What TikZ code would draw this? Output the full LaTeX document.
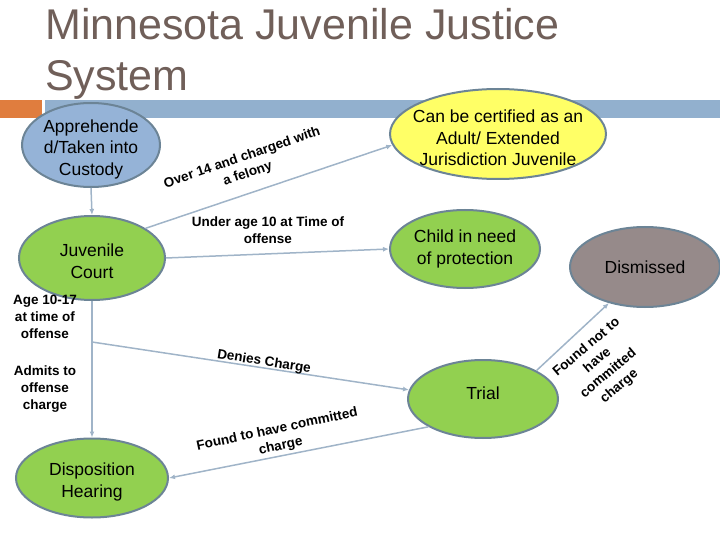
\documentclass[tikz,border=0pt]{standalone}
\usepackage{fontspec}
\setmainfont{Liberation Sans}
\usepackage{xcolor}
\usetikzlibrary{arrows.meta,positioning,shapes.geometric}

\definecolor{titlegray}{RGB}{112,95,89}
\definecolor{barblue}{RGB}{146,176,206}
\definecolor{barorange}{RGB}{224,125,62}
\definecolor{rimgray}{RGB}{108,132,150}
\definecolor{linkblue}{RGB}{160,180,200}
\definecolor{stepblue}{RGB}{149,179,215}
\definecolor{stepgreen}{RGB}{146,208,80}
\definecolor{stepyellow}{RGB}{255,255,102}
\definecolor{stepmauve}{RGB}{150,138,138}

\begin{document}
\begin{tikzpicture}[
    x=1pt, y=-1pt,
    >={Latex[length=6pt,width=5pt]},
    oval/.style={draw=rimgray, line width=2pt, ellipse, inner sep=0pt},
    ovaltext/.style={align=center, font=\fontsize{17.5}{21.5}\selectfont},
    link/.style={->, draw=linkblue, line width=1.5pt},
    note/.style={align=center, inner sep=1pt, font=\bfseries\fontsize{13.5}{17}\selectfont}
]
\useasboundingbox (0,0) rectangle (720,540);

% Slide heading and its rule.
\node[anchor=base west, align=left, inner sep=0pt, text=titlegray, font=\fontsize{43}{51}\selectfont] (title) at (45,91) {Minnesota Juvenile Justice\\System};
\fill[barorange] (0,100) rectangle (42,118);
\fill[barblue] (45,100) rectangle (720,118);

% Stages of the process.
\node[oval, fill=stepblue, minimum width=138pt, minimum height=84pt, label={[ovaltext, yshift=-4pt]center:Apprehende\\d/Taken into\\Custody}] (appr) at (91,145) {};
\node[oval, fill=stepgreen, minimum width=146pt, minimum height=84pt, label={[ovaltext, yshift=-3pt]center:Juvenile\\Court}] (court) at (92,258) {};
\node[oval, fill=stepgreen, minimum width=152pt, minimum height=79pt, label={[ovaltext, yshift=-4pt]center:Disposition\\Hearing}] (disp) at (92,478) {};
\node[oval, fill=stepyellow, minimum width=216pt, minimum height=90pt, label={[ovaltext, yshift=-4pt]center:Can be certified as an\\Adult/ Extended\\Jurisdiction Juvenile}] (cert) at (498,134) {};
\node[oval, fill=stepgreen, minimum width=150pt, minimum height=78pt, label={[ovaltext]center:Child in need\\of protection}] (child) at (465,249) {};
\node[oval, fill=stepmauve, minimum width=150pt, minimum height=80pt, label={[ovaltext]center:Dismissed}] (dism) at (645,267) {};
\node[oval, fill=stepgreen, minimum width=150pt, minimum height=78pt, label={[ovaltext, yshift=6pt]center:Trial}] (trial) at (483,399) {};

% Connectors.
\coordinate (split) at (92,342);
\draw[link] (appr.south) -- (court.north);
\draw[link] (court.29) -- (cert.186);
\draw[link] (court.east) -- (child.west);
\draw[link] (court.south) -- (disp.north);
\draw[link] (split) -- (trial.173);
\draw[link] (trial.207) -- (disp.east);
\draw[link] (trial.28) -- (dism.225);

% Conditions written along the connectors.
\node[note, rotate=19] (felony) at (245,166) {Over 14 and charged with\\a felony};
\node[note] (under10) at (268,230) {Under age 10 at Time of\\offense};
\node[note] (age) at (45,317) {Age 10-17\\at time of\\offense};
\node[note] (admits) at (45,389) {Admits to\\offense\\charge};
\node[note, rotate=-9] (denies) at (264,362) {Denies Charge};
\node[note, rotate=12] (guilty) at (279,438) {Found to have committed\\charge};
\node[note, rotate=40] (cleared) at (603,367) {Found not to\\have\\committed\\charge};

\end{tikzpicture}
\end{document}
